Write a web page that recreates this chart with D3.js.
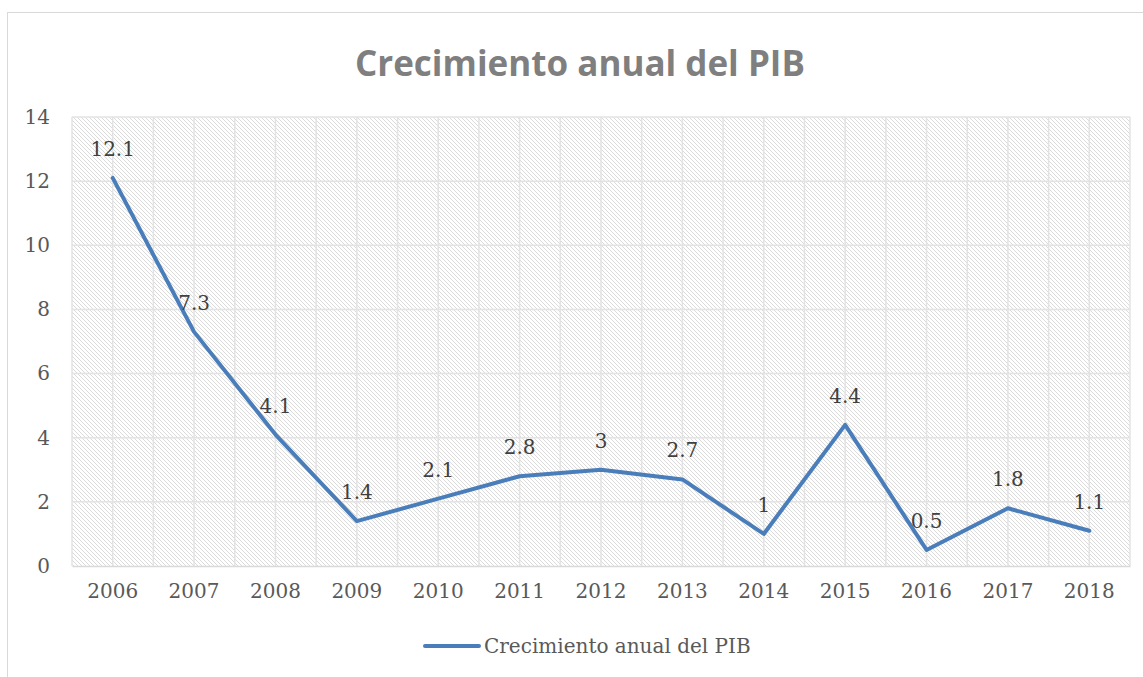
<!DOCTYPE html>
<html>
<head>
<meta charset="utf-8">
<script src="https://cdn.jsdelivr.net/npm/d3@7"></script>
<style>
  body { margin: 0; background: #fff; }
</style>
</head>
<body>
<svg id="chart" width="1143" height="677"></svg>
<script>
const years = ["2006", "2007", "2008", "2009", "2010", "2011", "2012", "2013", "2014", "2015", "2016", "2017", "2018"];
const growth = [12.1, 7.3, 4.1, 1.4, 2.1, 2.8, 3, 2.7, 1, 4.4, 0.5, 1.8, 1.1];
const yTicks = [0, 2, 4, 6, 8, 10, 12, 14];
const seriesName = "Crecimiento anual del PIB";

const width = 1143, height = 677;
const margin = ({top: 117, right: 13, bottom: 111, left: 72});
const serif = "'DejaVu Serif', serif";

const svg = d3.select("#chart");

// hatch fill for the plot area
const defs = svg.append("defs");
defs.append("pattern")
    .attr("id", "hatch")
    .attr("patternUnits", "userSpaceOnUse")
    .attr("width", 4).attr("height", 4)
  .append("path")
    .attr("d", "M-1,-1 L5,5 M-1,3 L1,5 M3,-1 L5,1")
    .attr("stroke", "#dadada")
    .attr("stroke-width", 1);

// chart frame
svg.append("rect")
    .attr("x", 7.5).attr("y", 12.5)
    .attr("width", 1150).attr("height", 700)
    .attr("fill", "#fff")
    .attr("stroke", "#d9d9d9")
    .attr("stroke-width", 1);

const x = d3.scaleBand()
    .domain(years)
    .range([margin.left, width - margin.right]);

const y = d3.scaleLinear()
    .domain([0, 14])
    .range([height - margin.bottom, margin.top]);

svg.append("rect")
    .attr("x", margin.left).attr("y", margin.top)
    .attr("width", x.range()[1] - margin.left)
    .attr("height", y(0) - margin.top)
    .attr("fill", "url(#hatch)");

// grid: vertical lines at category edges and centres
const vLines = [];
years.forEach(d => { vLines.push(x(d)); vLines.push(x(d) + x.bandwidth() / 2); });
vLines.push(x.range()[1]);

svg.append("g")
    .selectAll("line")
    .data(vLines)
    .join("line")
    .attr("x1", d => d).attr("x2", d => d)
    .attr("y1", margin.top).attr("y2", y(0))
    .attr("stroke", "#e3e3e3")
    .attr("stroke-width", 1.5);

svg.append("g")
    .selectAll("line")
    .data(yTicks.filter(d => d > 0))
    .join("line")
    .attr("x1", margin.left).attr("x2", x.range()[1])
    .attr("y1", d => y(d)).attr("y2", d => y(d))
    .attr("stroke", "#e3e3e3")
    .attr("stroke-width", 1.5);

// axes
const yAxis = g => g
    .attr("transform", `translate(${margin.left},0)`)
    .call(d3.axisLeft(y).tickValues(yTicks).tickSize(0).tickPadding(22))
    .call(g => g.select(".domain").remove())
    .call(g => g.selectAll("text")
        .attr("font-family", serif)
        .attr("font-size", 20)
        .attr("fill", "#595959"));

const xAxis = g => g
    .attr("transform", `translate(0,${y(0)})`)
    .call(d3.axisBottom(x).tickSize(0).tickPadding(18))
    .call(g => g.select(".domain").attr("stroke", "#d9d9d9").attr("stroke-width", 1.5))
    .call(g => g.selectAll("text")
        .attr("font-family", serif)
        .attr("font-size", 20)
        .attr("fill", "#595959"));

svg.append("g").call(yAxis);
svg.append("g").call(xAxis);

// line
const cx = d => x(d) + x.bandwidth() / 2;
const lineGenerator = d3.line()
    .x((d, i) => cx(years[i]))
    .y(d => y(d));

svg.append("path")
    .attr("d", lineGenerator(growth))
    .attr("fill", "none")
    .attr("stroke", "#4a7ebb")
    .attr("stroke-width", 4)
    .attr("stroke-linejoin", "round")
    .attr("stroke-linecap", "round");

// data labels
svg.append("g")
    .selectAll("text")
    .data(growth)
    .join("text")
    .attr("x", (d, i) => cx(years[i]))
    .attr("y", d => y(d) - 22)
    .attr("text-anchor", "middle")
    .attr("font-family", serif)
    .attr("font-size", 20)
    .attr("fill", "#404040")
    .text(d => d);

// title
svg.append("text")
    .attr("x", 580).attr("y", 76)
    .attr("text-anchor", "middle")
    .attr("font-family", "'Open Sans', sans-serif")
    .attr("font-weight", "bold")
    .attr("font-size", 35)
    .attr("fill", "#7f7f7f")
    .text(seriesName);

// legend
const legend = svg.append("g").attr("transform", "translate(425,646)");
legend.append("line")
    .attr("x1", 0).attr("x2", 54)
    .attr("stroke", "#4a7ebb")
    .attr("stroke-width", 4)
    .attr("stroke-linecap", "round");
legend.append("text")
    .attr("x", 59).attr("y", 7)
    .attr("font-family", serif)
    .attr("font-size", 20)
    .attr("fill", "#595959")
    .text(seriesName);
</script>
</body>
</html>
